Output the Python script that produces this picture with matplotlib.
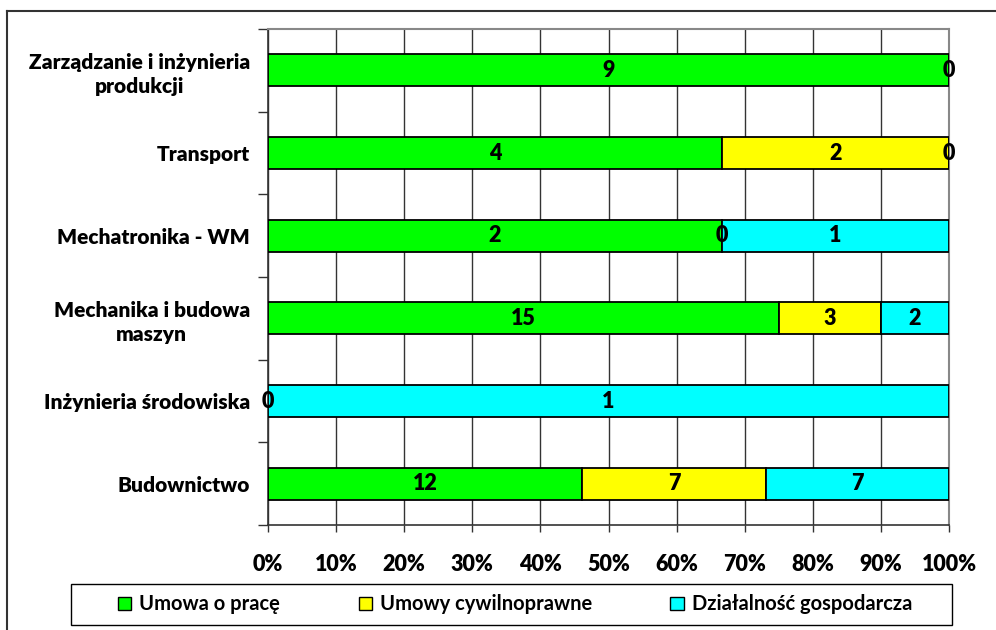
import numpy as np
import matplotlib
matplotlib.use("Agg")
import matplotlib.pyplot as plt
from matplotlib.lines import Line2D
from matplotlib.patches import Rectangle

categories = ["Budownictwo", "Inżynieria środowiska", "Mechanika i budowa\nmaszyn",
              "Mechatronika - WM", "Transport", "Zarządzanie i inżynieria\nprodukcji"]
series_names = ["Umowa o pracę", "Umowy cywilnoprawne", "Działalność gospodarcza"]
umowa_o_prace = [12, 0, 15, 2, 4, 9]
umowy_cywilne = [7, np.nan, 3, 0, 2, np.nan]
dzialalnosc = [7, 1, 2, 1, 0, 0]
colors = ["#00FF00", "#FFFF00", "#00FFFF"]
xtick_labels = ["0%", "10%", "20%", "30%", "40%", "50%", "60%", "70%", "80%", "90%", "100%"]

plt.rcParams['font.family'] = ['Lato', 'DejaVu Sans']
WEIGHT = "heavy"

W, H = 996, 630
fig = plt.figure(figsize=(W / 100, H / 100), dpi=100)
ax = fig.add_axes([268 / W, 1 - 525 / H, (949 - 268) / W, (525 - 29) / H])

data = np.array([umowa_o_prace, umowy_cywilne, dzialalnosc], dtype=float)
totals = np.nansum(data, axis=0)
y = np.arange(len(categories))
left = np.zeros(len(categories))
handles = []
for i in range(3):
    vals = data[i]
    pct = np.nan_to_num(vals) / totals * 100
    b = ax.barh(y, pct, left=left, height=0.39, color=colors[i], edgecolor="black",
                linewidth=1.3, label=series_names[i], zorder=3)
    handles.append(b)
    for j in range(len(categories)):
        if not np.isnan(vals[j]):
            ax.text(left[j] + pct[j] / 2, y[j], f"{int(vals[j])}", ha="center", va="center",
                    fontsize=15.5, fontweight=WEIGHT, zorder=4)
    left = left + pct

ax.set_xlim(0, 100)
ax.set_ylim(-0.5, len(categories) - 0.5)
ax.set_xticks(np.arange(0, 101, 10))
ax.set_xticklabels(xtick_labels, fontsize=15.5, fontweight=WEIGHT)
ax.set_yticks(y)
ax.set_yticklabels(categories, fontsize=15, fontweight=WEIGHT, ha="right",
                   multialignment="center", linespacing=1.3)
ax.tick_params(axis="y", length=0, pad=13)
ax.set_yticks(np.arange(-0.5, len(categories), 1), minor=True)
ax.tick_params(axis="y", which="minor", length=7, width=1, color="#333333")
ax.tick_params(axis="x", length=5, width=1, color="#333333", pad=16)
ax.grid(axis="x", color="#333333", linewidth=1, zorder=0)
for s in ["top", "right"]:
    ax.spines[s].set_color("#888888")
    ax.spines[s].set_linewidth(1.5)
for s in ["left", "bottom"]:
    ax.spines[s].set_color("#333333")
    ax.spines[s].set_linewidth(1.2)

# legend box
fig.add_artist(Rectangle((71 / W, 1 - 625 / H), (952 - 71) / W, (625 - 584) / H,
                         transform=fig.transFigure, facecolor="white", edgecolor="black",
                         linewidth=1.0, zorder=5))
leg = fig.legend(handles=handles, labels=series_names, loc="center",
                 bbox_to_anchor=(515 / W, 1 - 604.5 / H),
                 ncol=3, frameon=False, handlelength=0.65, handleheight=0.65,
                 handletextpad=0.4, columnspacing=3.9, borderpad=0.2,
                 prop={"size": 14.5, "weight": "bold"})
leg.set_zorder(6)
for h in leg.legend_handles:
    h.set_linewidth(1.0)

fig.add_artist(Line2D([7 / W, 1.0], [1 - 11 / H, 1 - 11 / H], color="#333333", linewidth=1.5,
                      transform=fig.transFigure))
fig.add_artist(Line2D([7 / W, 7 / W], [1 - 11 / H, 0.0], color="#333333", linewidth=1.5,
                      transform=fig.transFigure))

fig.savefig("out.png", dpi=100)
